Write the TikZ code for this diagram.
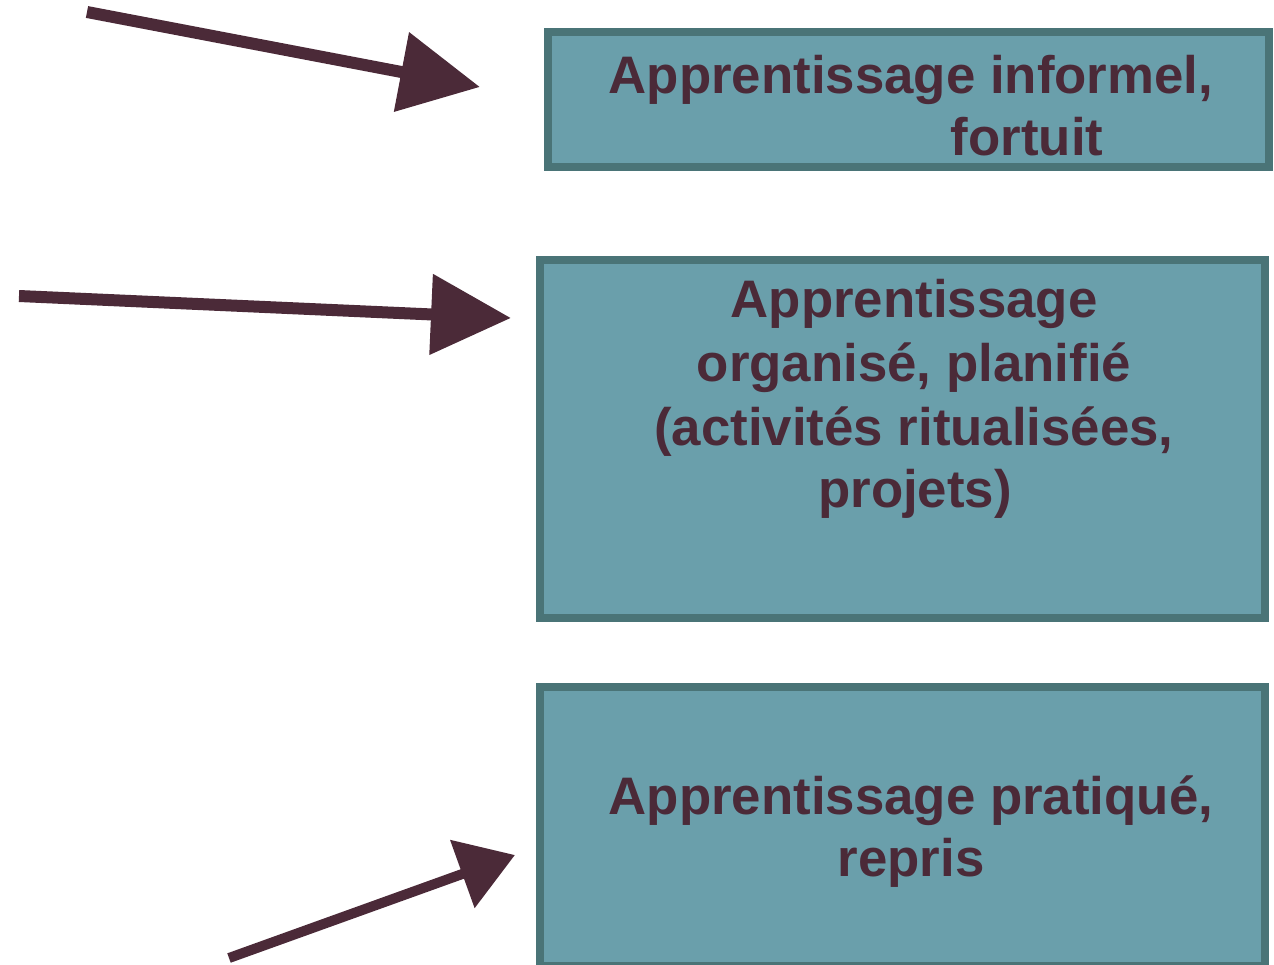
\documentclass[tikz,border=0pt]{standalone}
\usepackage{fontspec}
\setmainfont{Liberation Sans}
\usetikzlibrary{arrows.meta}
\definecolor{boxfill}{HTML}{6A9FAB}
\definecolor{boxline}{HTML}{4A7477}
\definecolor{maroon}{HTML}{4B2A38}
\tikzset{
  box/.style={draw=boxline, fill=boxfill, line width=7.5pt},
  lbl/.style={anchor=base, inner sep=0pt, text=maroon, font=\fontsize{52.8}{62}\selectfont\bfseries},
  bigarrow/.style={draw=maroon, line width=12pt, -{Triangle[length=80pt,width=78pt]}},
}
\begin{document}
\begin{tikzpicture}[x=1pt,y=-1pt]
\useasboundingbox (0,0) rectangle (1274,964);
% boxes
\draw[box] (548,32) rectangle (1269,167);
\draw[box] (540,260) rectangle (1265,618);
\draw[box] (540,687) rectangle (1265,966);
% arrow end points
\coordinate (t1) at (480,87);
\coordinate (t2) at (511,318);
\coordinate (t3) at (515,855);
\coordinate (s1) at (87,12);
\coordinate (s2) at (19,296);
\coordinate (s3) at (229,958);
% texts
\node[lbl] (a1) at (911,93) {Apprentissage informel,};
\node[lbl] (a2) at (1027,155) {fortuit};
\node[lbl] (b1) at (914,317) {Apprentissage};
\node[lbl] (b2) at (914,381) {organisé, planifié};
\node[lbl] (b3) at (914,445) {(activités ritualisées,};
\node[lbl] (b4) at (915,507) {projets)};
\node[lbl] (c1) at (911,814) {Apprentissage pratiqué,};
\node[lbl] (c2) at (911,876) {repris};
% arrows
\draw[bigarrow] (s1) -- (t1);
\draw[bigarrow] (s2) -- (t2);
\draw[bigarrow, line width=10pt, -{Triangle[length=56pt,width=70pt]}] (s3) -- (t3);
\end{tikzpicture}
\end{document}
